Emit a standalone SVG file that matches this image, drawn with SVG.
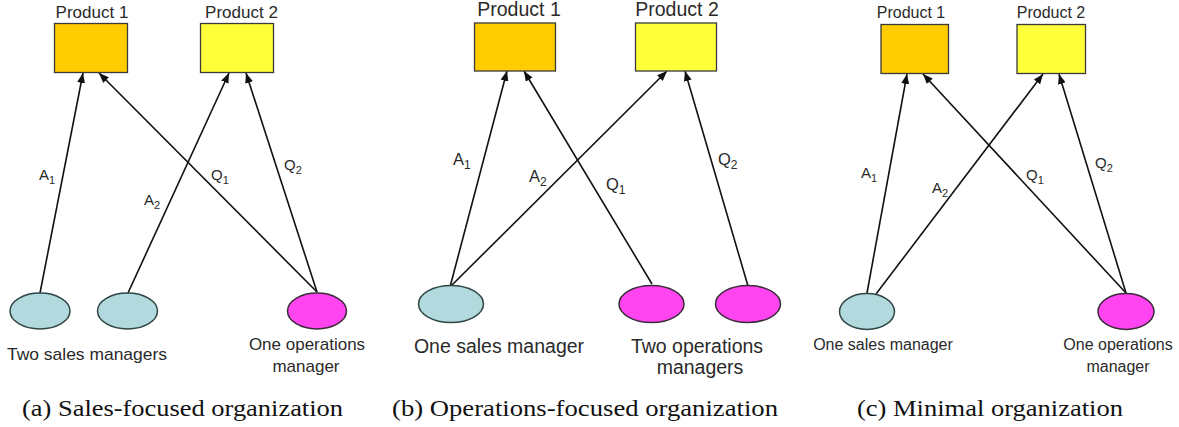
<svg xmlns="http://www.w3.org/2000/svg" width="1179" height="427" viewBox="0 0 1179 427">
<style>
.p1{fill:#FFCC00;stroke:#3a3a3a;stroke-width:1.3}
.p2{fill:#FFFF3A;stroke:#3a3a3a;stroke-width:1.3}
.s{fill:#B2D9DD;stroke:#2f4545;stroke-width:1.5}
.o{fill:#FF44F0;stroke:#3a2a3a;stroke-width:1.5}
.t{font-family:"Liberation Sans",Arial,sans-serif;fill:#2a2a2a}
.cap{font-family:"Liberation Serif","Times New Roman",serif;fill:#111;font-size:23px}
.ln{stroke:#111;stroke-width:1.6;fill:none;marker-end:url(#ah)}
</style>
<defs>
<marker id="ah" markerUnits="userSpaceOnUse" markerWidth="10" markerHeight="8" refX="10" refY="4" orient="auto">
<path d="M0,0 L10,4 L0,8 z" fill="#111"/>
</marker>
</defs>
<rect width="1179" height="427" fill="#fff"/>

<g id="connectors">
<!-- (a) -->
<line class="ln" x1="40" y1="293" x2="83" y2="73"/>
<line class="ln" x1="317" y1="292" x2="99" y2="73"/>
<line class="ln" x1="128" y1="293" x2="229" y2="73"/>
<line class="ln" x1="317" y1="292" x2="246" y2="73"/>
<!-- (b) -->
<line class="ln" x1="450" y1="287" x2="507" y2="71"/>
<line class="ln" x1="652" y1="284" x2="524" y2="71"/>
<line class="ln" x1="450" y1="287" x2="667" y2="71"/>
<line class="ln" x1="748" y1="286" x2="685" y2="71"/>
<!-- (c) -->
<line class="ln" x1="867" y1="293" x2="907" y2="74"/>
<line class="ln" x1="876" y1="294" x2="1043" y2="74"/>
<line class="ln" x1="1126" y1="293" x2="923" y2="74"/>
<line class="ln" x1="1126" y1="293" x2="1059" y2="74"/>
</g>

<g id="edge-labels" class="t">
<text x="39" y="180" font-size="15">A<tspan font-size="11" dy="4">1</tspan></text>
<text x="144" y="205" font-size="15">A<tspan font-size="11" dy="4">2</tspan></text>
<text x="211" y="180" font-size="15">Q<tspan font-size="11" dy="4">1</tspan></text>
<text x="284" y="170" font-size="15">Q<tspan font-size="11" dy="4">2</tspan></text>

<text x="453" y="165" font-size="16.5">A<tspan font-size="12" dy="4">1</tspan></text>
<text x="529" y="182" font-size="16.5">A<tspan font-size="12" dy="4">2</tspan></text>
<text x="606" y="190" font-size="16.5">Q<tspan font-size="12" dy="4">1</tspan></text>
<text x="718" y="165" font-size="16.5">Q<tspan font-size="12" dy="4">2</tspan></text>

<text x="861" y="178" font-size="15">A<tspan font-size="11" dy="4">1</tspan></text>
<text x="932" y="193" font-size="15">A<tspan font-size="11" dy="4">2</tspan></text>
<text x="1026" y="180" font-size="15">Q<tspan font-size="11" dy="4">1</tspan></text>
<text x="1095" y="168" font-size="15">Q<tspan font-size="11" dy="4">2</tspan></text>
</g>

<!-- Panel (a) -->
<g id="a-product1">
<rect class="p1" x="54.5" y="23.5" width="73" height="49"/>
<text class="t" x="92" y="17.5" font-size="17" text-anchor="middle">Product 1</text>
</g>
<g id="a-product2">
<rect class="p2" x="200.5" y="23.5" width="73" height="49"/>
<text class="t" x="241.5" y="17.5" font-size="17" text-anchor="middle">Product 2</text>
</g>
<g id="a-sales1"><ellipse class="s" cx="40" cy="311" rx="30" ry="18"/></g>
<g id="a-sales2"><ellipse class="s" cx="127.5" cy="311" rx="30" ry="18"/></g>
<g id="a-sales-label"><text class="t" x="7" y="360" font-size="17" textLength="160" lengthAdjust="spacingAndGlyphs">Two sales managers</text></g>
<g id="a-ops">
<ellipse class="o" cx="317" cy="311" rx="29.5" ry="18"/>
<text class="t" x="307" y="350" font-size="17" text-anchor="middle">One operations</text>
<text class="t" x="306" y="371.5" font-size="17" text-anchor="middle">manager</text>
</g>
<g id="a-caption"><text class="cap" x="22" y="416" textLength="321" lengthAdjust="spacingAndGlyphs">(a) Sales-focused organization</text></g>

<!-- Panel (b) -->
<g id="b-product1">
<rect class="p1" x="474.5" y="23" width="81" height="48"/>
<text class="t" x="519" y="16" font-size="19.5" text-anchor="middle">Product 1</text>
</g>
<g id="b-product2">
<rect class="p2" x="635.5" y="23" width="81" height="48"/>
<text class="t" x="677" y="16" font-size="19.5" text-anchor="middle">Product 2</text>
</g>
<g id="b-sales">
<ellipse class="s" cx="451" cy="304" rx="32.5" ry="18.5"/>
<text class="t" x="499" y="353" font-size="19.5" text-anchor="middle">One sales manager</text>
</g>
<g id="b-ops1"><ellipse class="o" cx="651.5" cy="304" rx="32.5" ry="18.5"/></g>
<g id="b-ops2"><ellipse class="o" cx="748" cy="304" rx="32.5" ry="18.5"/></g>
<g id="b-ops-label">
<text class="t" x="697" y="353" font-size="19.5" text-anchor="middle">Two operations</text>
<text class="t" x="700" y="374" font-size="19.5" text-anchor="middle">managers</text>
</g>
<g id="b-caption"><text class="cap" x="392" y="416" textLength="386" lengthAdjust="spacingAndGlyphs">(b) Operations-focused organization</text></g>

<!-- Panel (c) -->
<g id="c-product1">
<rect class="p1" x="881" y="24.5" width="67.5" height="49"/>
<text class="t" x="911" y="17.5" font-size="16" text-anchor="middle">Product 1</text>
</g>
<g id="c-product2">
<rect class="p2" x="1017" y="24.5" width="68.5" height="49"/>
<text class="t" x="1051" y="17.5" font-size="16" text-anchor="middle">Product 2</text>
</g>
<g id="c-sales">
<ellipse class="s" cx="867" cy="311.5" rx="27.5" ry="18"/>
<text class="t" x="883" y="350" font-size="16" text-anchor="middle">One sales manager</text>
</g>
<g id="c-ops">
<ellipse class="o" cx="1126" cy="311.5" rx="28" ry="18"/>
<text class="t" x="1118" y="350" font-size="16" text-anchor="middle">One operations</text>
<text class="t" x="1118" y="371.5" font-size="16" text-anchor="middle">manager</text>
</g>
<g id="c-caption"><text class="cap" x="857" y="416" textLength="266" lengthAdjust="spacingAndGlyphs">(c) Minimal organization</text></g>
</svg>
